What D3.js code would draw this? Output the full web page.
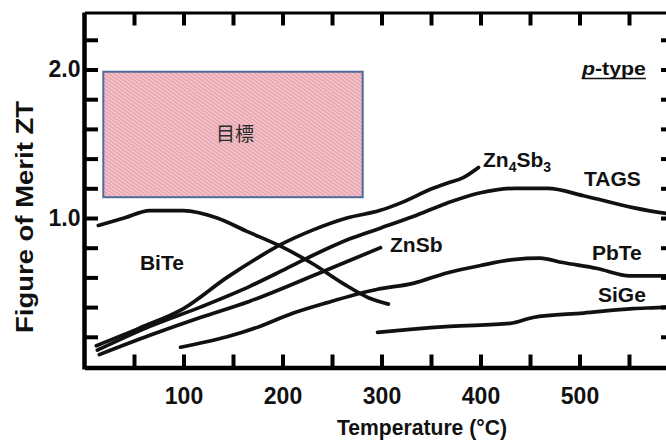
<!DOCTYPE html>
<html>
<head>
<meta charset="utf-8">
<script src="https://cdn.jsdelivr.net/npm/d3@7"></script>
<style>
  html, body { margin: 0; padding: 0; background: #fff; }
  svg { display: block; font-family: "Liberation Sans", Arial, sans-serif; }
</style>
</head>
<body>
<svg id="chart" width="666" height="441"></svg>
<script>
// ---- data (temperature in °C, ZT) ----
const tempTicks = [50, 100, 150, 200, 250, 300, 350, 400, 450, 500, 550];
const tempLabels = [100, 200, 300, 400, 500];
const ztTicks = [0.2, 0.4, 0.6, 0.8, 1.0, 1.2, 1.4, 1.6, 1.8, 2.0, 2.2];
const ztLabels = [1.0, 2.0];

const seriesNames = ["BiTe", "Zn4Sb3", "TAGS", "ZnSb", "PbTe", "SiGe"];
const bite = [[14,0.95],[40,1.00],[66,1.05],[100,1.05],[134,1.00],[164,0.91],[198,0.81],[231,0.69],[261,0.56],[288,0.46],[307,0.42]];
const zn4sb3 = [[12,0.14],[56,0.26],[100,0.39],[144,0.60],[177,0.74],[198,0.82],[231,0.92],[265,1.00],[298,1.05],[319,1.10],[352,1.20],[369,1.24],[382,1.27],[398,1.34]];
const tags = [[13,0.11],[66,0.27],[117,0.40],[167,0.54],[198,0.64],[225,0.73],[268,0.86],[298,0.93],[332,1.01],[366,1.10],[400,1.17],[435,1.20],[468,1.20],[504,1.15],[554,1.07],[588,1.03],[600,1.02]];
const znsb = [[15,0.08],[66,0.21],[117,0.33],[167,0.44],[241,0.64],[299,0.80]];
const pbte = [[97,0.13],[144,0.20],[177,0.27],[211,0.36],[245,0.43],[296,0.52],[332,0.56],[366,0.63],[400,0.68],[433,0.72],[460,0.73],[483,0.70],[518,0.66],[551,0.61],[587,0.61],[600,0.62]];
const sige = [[296,0.23],[329,0.25],[369,0.27],[430,0.29],[453,0.33],[504,0.36],[554,0.39],[587,0.40],[600,0.41]];
const seriesValues = [bite, zn4sb3, tags, znsb, pbte, sige];

// target region (目標): T range and ZT range
const targetT = [19, 281];
const targetZT = [1.14, 1.985];

// ---- layout ----
const svg = d3.select("#chart");
const x = d3.scaleLinear().domain([0, 600]).range([84.5, 678.5]);
const y = d3.scaleLinear().domain([0, 2.4]).range([366.5, 10.1]);

// pattern for the target box
const defs = svg.append("defs");
const pat = defs.append("pattern").attr("id", "hatch").attr("patternUnits", "userSpaceOnUse")
  .attr("width", 3).attr("height", 3).attr("patternTransform", "rotate(-55)");
pat.append("rect").attr("width", 3).attr("height", 3).attr("fill", "#eaa8b2");
pat.append("line").attr("x1", 0).attr("y1", 0).attr("x2", 0).attr("y2", 3)
  .attr("stroke", "#fbe8ec").attr("stroke-width", 1.2);

// target rectangle
svg.append("rect")
  .attr("x", x(targetT[0])).attr("y", y(targetZT[1]))
  .attr("width", x(targetT[1]) - x(targetT[0]))
  .attr("height", y(targetZT[0]) - y(targetZT[1]))
  .attr("fill", "url(#hatch)")
  .attr("stroke", "#4f6b9a").attr("stroke-width", 2);
svg.append("text")
  .attr("x", x((targetT[0] + targetT[1]) / 2) + 2).attr("y", y((targetZT[0] + targetZT[1]) / 2) + 7)
  .attr("text-anchor", "middle")
  .attr("font-family", "'Noto Sans CJK JP', 'Noto Sans CJK SC', sans-serif")
  .attr("font-size", 19).attr("fill", "#2a2a2a")
  .text("目標");

// curves
const line = d3.line().x(d => x(d[0])).y(d => y(d[1])).curve(d3.curveMonotoneX);
svg.append("g").selectAll("path").data(seriesValues).join("path")
  .attr("d", line)
  .attr("fill", "none").attr("stroke", "#111")
  .attr("stroke-width", 3.7)
  .attr("stroke-linecap", "round").attr("stroke-linejoin", "round");

// axes
function styleAxis(g, w) {
  g.select(".domain").attr("stroke", "#000").attr("stroke-width", w);
  g.selectAll(".tick line").attr("stroke", "#000").attr("stroke-width", 4);
  g.selectAll(".tick text").attr("fill", "#111").attr("font-size", 23)
    .attr("font-weight", "bold").attr("font-family", "'Liberation Sans', Arial, sans-serif");
}

const xb = svg.append("g").attr("transform", "translate(0,367.5)")
  .call(d3.axisBottom(x).tickValues(tempTicks).tickSizeInner(-13).tickSizeOuter(0).tickPadding(20)
    .tickFormat(d => tempLabels.includes(d) ? d : ""));
styleAxis(xb, 4.5);

const xt = svg.append("g").attr("transform", "translate(0,12.5)")
  .call(d3.axisTop(x).tickValues(tempTicks).tickSizeInner(-13).tickSizeOuter(0).tickFormat(""));
styleAxis(xt, 3);

const yl = svg.append("g").attr("transform", "translate(84.5,0)")
  .call(d3.axisLeft(y).tickValues(ztTicks).tickSizeInner(-13.5).tickSizeOuter(0).tickPadding(4)
    .tickFormat(d => ztLabels.some(v => Math.abs(v - d) < 1e-9) ? d3.format(".1f")(d) : ""));
styleAxis(yl, 4.5);
yl.select(".domain").attr("d", `M0,${12.5}V${369.5}`);

const yr = svg.append("g").attr("transform", "translate(674,0)")
  .call(d3.axisRight(y).tickValues(ztTicks).tickSizeInner(-13).tickSizeOuter(0).tickFormat(""));
styleAxis(yr, 3);

// axis titles
svg.append("text")
  .attr("x", 422).attr("y", 435)
  .attr("text-anchor", "middle")
  .attr("font-size", 22).attr("font-weight", "bold").attr("fill", "#111")
  .attr("textLength", 170).attr("lengthAdjust", "spacingAndGlyphs")
  .text("Temperature (°C)");

svg.append("text")
  .attr("transform", "translate(33,217) rotate(-90)")
  .attr("text-anchor", "middle")
  .attr("font-size", 24).attr("font-weight", "bold").attr("fill", "#111")
  .attr("textLength", 232).attr("lengthAdjust", "spacingAndGlyphs")
  .text("Figure of Merit ZT");

// series labels
const labelAnchors = [[56,0.65],[402.5,1.343],[504.5,1.215],[308.6,0.771],[512.6,0.717],[518.7,0.434]];
const lab = svg.append("g").attr("font-weight", "bold").attr("fill", "#111");
seriesNames.forEach((name, i) => {
  const t = lab.append("text").attr("x", x(labelAnchors[i][0])).attr("y", y(labelAnchors[i][1]));
  if (name === "Zn4Sb3") {
    t.append("tspan").attr("font-size", 21).text("Zn");
    t.append("tspan").attr("font-size", 14).attr("dy", 5).text("4");
    t.append("tspan").attr("font-size", 21).attr("dy", -5).text("Sb");
    t.append("tspan").attr("font-size", 14).attr("dy", 5).text("3");
  } else {
    t.attr("font-size", 21).text(name);
  }
});

// p-type annotation
const pt = svg.append("text").attr("x", x(502.5)).attr("y", y(1.966))
  .attr("font-size", 18).attr("font-weight", "bold").attr("fill", "#111")
  .attr("textLength", 64).attr("lengthAdjust", "spacingAndGlyphs");
pt.append("tspan").attr("font-style", "italic").text("p");
pt.append("tspan").text("-type");
svg.append("line")
  .attr("x1", x(502.5)).attr("x2", x(502.5) + 64)
  .attr("y1", y(1.966) + 4).attr("y2", y(1.966) + 4)
  .attr("stroke", "#111").attr("stroke-width", 1.5);
</script>
</body>
</html>
